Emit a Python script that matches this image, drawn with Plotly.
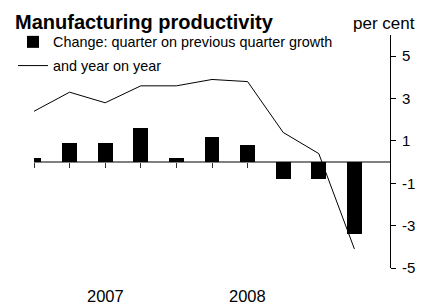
import plotly.graph_objects as go

# Data (quarters)
quarters = list(range(10))
qoq_growth = [0.2, 0.9, 0.9, 1.6, 0.2, 1.2, 0.8, -0.8, -0.8, -3.4]
yoy_growth = [2.4, 3.3, 2.8, 3.6, 3.6, 3.9, 3.8, 1.4, 0.4, -4.1]
year_labels = ["2007", "2008"]
year_label_pos = [2, 6]
y_ticks = [-5, -3, -1, 1, 3, 5]

W, H = 421, 304
L, R, T, B = 34, 31, 35, 36
FONT = "Liberation Sans, Arial, sans-serif"

fig = go.Figure()
fig.add_trace(go.Bar(
    x=quarters, y=qoq_growth, width=0.42,
    marker=dict(color="black", line=dict(width=0)),
    name="Change: quarter on previous quarter growth",
    legendgroup="a",
))
fig.add_trace(go.Scatter(
    x=quarters, y=yoy_growth, mode="lines",
    line=dict(color="black", width=1),
    name="and year on year",
    legendgroup="b",
))

ymin, ymax = -5, 6
zero_pos = (0 - ymin) / (ymax - ymin)

fig.update_layout(
    width=W, height=H,
    margin=dict(l=L, r=R, t=T, b=B, autoexpand=False),
    paper_bgcolor="white", plot_bgcolor="white",
    font=dict(family=FONT, color="black"),
    hovermode=False,
    showlegend=True,
    legend=dict(
        xref="container", yref="container",
        x=13 / W, y=1 - 26 / H, xanchor="left", yanchor="top",
        font=dict(size=14.4, family=FONT),
        bgcolor="rgba(0,0,0,0)",
        tracegroupgap=2, traceorder="grouped",
        itemwidth=30,
    ),
    title=dict(
        text="<b>Manufacturing productivity</b>",
        xref="container", yref="container",
        x=15 / W, y=1 - 22 / H, xanchor="left", yanchor="middle",
        font=dict(size=20, family=FONT, color="black"),
    ),
    bargap=0,
    xaxis=dict(
        range=[0, 10], showgrid=False, zeroline=False,
        showline=False, showticklabels=False,
        tickvals=quarters, ticks="outside", ticklen=5,
        tickcolor="#333333", tickwidth=1,
        anchor="free", position=zero_pos, layer="below traces",
    ),
    yaxis=dict(
        range=[ymin, ymax], side="right", showgrid=False,
        zeroline=True, zerolinecolor="#808080", zerolinewidth=2,
        showline=True, linecolor="black", linewidth=1,
        ticks="outside", ticklen=5, tickcolor="black",
        tickvals=y_ticks, ticktext=[str(v) for v in y_ticks],
        tickfont=dict(size=15, family=FONT),
        ticklabelstandoff=3,
    ),
)

plot_w = W - L - R
plot_h = H - T - B
def px_x(px):
    return (px - L) / plot_w
def px_y(py):
    return (H - B - py) / plot_h

fig.add_annotation(
    text="per cent", xref="paper", yref="paper",
    x=px_x(417), y=px_y(23),
    xanchor="right", yanchor="middle", showarrow=False,
    font=dict(size=17, family=FONT),
)
for lab, pos in zip(year_labels, year_label_pos):
    fig.add_annotation(
        text=lab, xref="x", yref="paper",
        x=pos, y=px_y(296),
        xanchor="center", yanchor="middle", showarrow=False,
        font=dict(size=16.5, family=FONT),
    )

fig.write_html(
    "out.html",
    config={"displayModeBar": False, "staticPlot": True},
    post_script="document.body.style.margin='0';"
                "document.documentElement.style.overflow='hidden';",
)
